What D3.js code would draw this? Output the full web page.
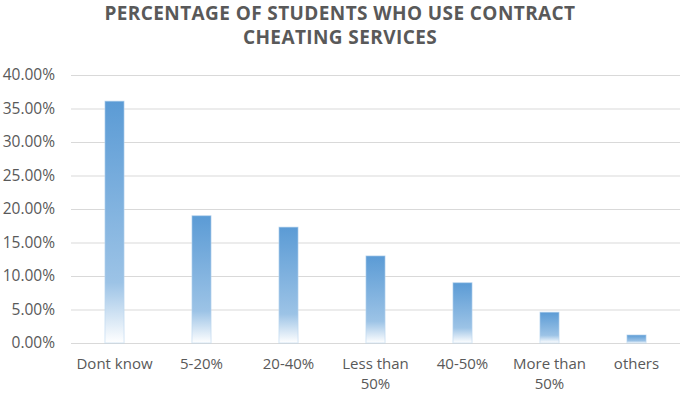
<!DOCTYPE html>
<html>
<head>
    <title>Contract Cheating</title>
    <script src="https://d3js.org/d3.v7.min.js"></script>
    <style>
        body { margin: 0; background: #fff; }
        text { font-family: "Open Sans", sans-serif; fill: #595959; }
    </style>
</head>
<body>
    <div id="chart"></div>

    <script>
        // data
        const categories = ['Dont know', '5-20%', '20-40%', 'Less than 50%', '40-50%', 'More than 50%', 'others'];
        const values = [0.361, 0.190, 0.173, 0.130, 0.090, 0.046, 0.012];
        const yTicks = [0, 0.05, 0.10, 0.15, 0.20, 0.25, 0.30, 0.35, 0.40];
        const titleLines = ['PERCENTAGE OF STUDENTS WHO USE CONTRACT', 'CHEATING SERVICES'];

        const W = 685, H = 395;
        const margin = { top: 75, right: 5, bottom: 52, left: 71 };
        const width = W - margin.left - margin.right;
        const height = H - margin.top - margin.bottom;

        const svg = d3.select('#chart')
            .append('svg')
            .attr('width', W)
            .attr('height', H);

        // gradient fill, fades out towards the bottom of each bar
        const grad = svg.append('defs').append('linearGradient')
            .attr('id', 'barFill')
            .attr('x1', 0).attr('y1', 0).attr('x2', 0).attr('y2', 1);
        grad.append('stop').attr('offset', '0%').attr('stop-color', '#5b9bd5');
        grad.append('stop').attr('offset', '75%').attr('stop-color', '#9cc3e6');
        grad.append('stop').attr('offset', '100%').attr('stop-color', '#ffffff');

        // title
        svg.append('g').selectAll('text')
            .data(titleLines)
            .enter()
            .append('text')
            .attr('x', 340)
            .attr('y', (d, i) => 20 + i * 24)
            .attr('text-anchor', 'middle')
            .style('font-size', '19px')
            .style('font-weight', 'bold')
            .style('letter-spacing', '0.4px')
            .text(d => d);

        const g = svg.append('g')
            .attr('transform', `translate(${margin.left},${margin.top})`);

        const x = d3.scaleBand()
            .domain(categories)
            .range([0, width])
            .paddingInner(0.78)
            .paddingOuter(0.39);

        const y = d3.scaleLinear()
            .domain([0, 0.40])
            .range([height, 0]);

        // gridlines + y labels
        const yAxis = g.append('g')
            .call(d3.axisLeft(y)
                .tickValues(yTicks)
                .tickSize(-width)
                .tickPadding(16)
                .tickFormat(d3.format('.2%')));
        yAxis.select('.domain').remove();
        yAxis.selectAll('line').attr('stroke', '#d9d9d9').attr('stroke-width', 1.2);
        yAxis.selectAll('text')
            .style('font-size', '15.5px')
            .attr('fill', '#595959');

        // bars
        g.selectAll('rect.bar')
            .data(values)
            .enter()
            .append('rect')
            .attr('class', 'bar')
            .attr('x', (d, i) => x(categories[i]))
            .attr('y', d => y(d))
            .attr('width', x.bandwidth())
            .attr('height', d => height - y(d))
            .attr('fill', 'url(#barFill)')
            .attr('stroke', '#bdd7ee')
            .attr('stroke-opacity', 0.6)
            .attr('stroke-width', 1);

        // x labels
        const xAxis = g.append('g')
            .attr('transform', `translate(0,${height})`)
            .call(d3.axisBottom(x).tickSize(0).tickPadding(15));
        xAxis.select('.domain').remove();
        xAxis.selectAll('text')
            .style('font-size', '15px')
            .attr('fill', '#595959')
            .call(wrap, x.step() - 4);

        function wrap(sel, maxW) {
            sel.each(function () {
                const t = d3.select(this);
                const words = t.text().split(' ');
                const yy = t.attr('y');
                const dy = parseFloat(t.attr('dy'));
                t.text(null);
                let line = [];
                let tspan = t.append('tspan').attr('x', 0).attr('y', yy).attr('dy', dy + 'em');
                let n = 0;
                for (const w of words) {
                    line.push(w);
                    tspan.text(line.join(' '));
                    if (tspan.node().getComputedTextLength() > maxW && line.length > 1) {
                        line.pop();
                        tspan.text(line.join(' '));
                        line = [w];
                        n++;
                        tspan = t.append('tspan').attr('x', 0).attr('y', yy)
                            .attr('dy', (dy + n * 1.37) + 'em').text(w);
                    }
                }
            });
        }
    </script>
</body>
</html>
